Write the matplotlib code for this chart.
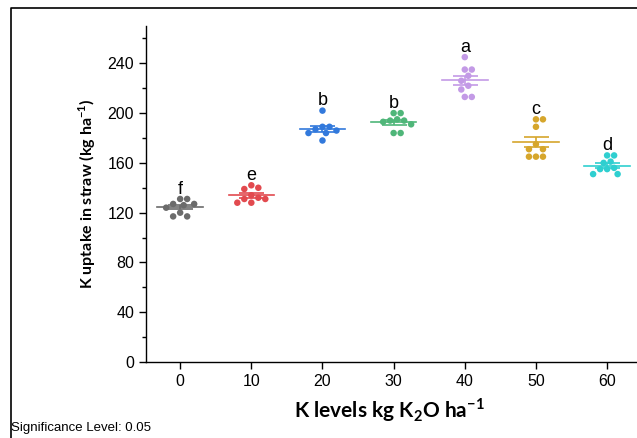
import matplotlib.pyplot as plt
import numpy as np
from matplotlib.lines import Line2D
from matplotlib.ticker import MultipleLocator

# K levels (kg K2O/ha)
levels = [0, 10, 20, 30, 40, 50, 60]

# K uptake in straw, replicate values per level
k0 = [131, 131, 127, 127, 126, 124, 120, 117, 117]
k10 = [142, 140, 139, 134, 132, 131, 131, 128, 128]
k20 = [202, 189, 189, 187, 186, 184, 184, 178]
k30 = [200, 200, 195, 194, 194, 193, 191, 184, 184]
k40 = [245, 235, 235, 230, 226, 222, 219, 213, 213]
k50 = [195, 195, 189, 175, 171, 171, 165, 165, 165]
k60 = [166, 166, 161, 160, 156, 155, 155, 151, 151]
groups = [k0, k10, k20, k30, k40, k50, k60]

letters = ['f', 'e', 'b', 'b', 'a', 'c', 'd']
colors = ['#6b6b6b', '#e24a4f', '#3279dc', '#4fb679', '#c39ae6', '#d6a62c', '#2fcfd0']

plt.rcParams['font.family'] = ['Liberation Sans', 'DejaVu Sans']
plt.rcParams['mathtext.fontset'] = 'custom'
plt.rcParams['mathtext.rm'] = 'Lato'
plt.rcParams['mathtext.bf'] = 'Lato:bold'

fig = plt.figure(figsize=(6.37, 4.38), dpi=100)
ax = fig.add_axes([146/637, 1-362/438, 1-146/637, (362-26)/438])
ax.set_xlim(-4.8, 64.2)
ax.set_ylim(0, 270)

# pixel scale used to swarm the dots
px_x = (637-146) / 69.0
px_y = 336 / 270.0
gap_px = 7.0


def swarm(vals):
    # simple beeswarm: put each dot as close to centre as it fits
    placed = []
    offs = []
    for v in vals:
        for k in range(0, 20):
            cands = [0.0] if k == 0 else [k * gap_px * 0.5, -k * gap_px * 0.5]
            ok = None
            for c in cands:
                if all((c - px) ** 2 + ((v - pv) * px_y) ** 2 >= gap_px ** 2 for px, pv in placed):
                    ok = c
                    break
            if ok is not None:
                placed.append((ok, v))
                offs.append(ok / px_x)
                break
    return np.array(offs)


for x, vals, col, let in zip(levels, groups, colors, letters):
    vals = np.array(vals, dtype=float)
    offs = swarm(vals)
    ax.scatter(x + offs, vals, s=22, color=col, edgecolors='none', zorder=3)
    m = vals.mean()
    sem = vals.std(ddof=1) / np.sqrt(len(vals))
    ax.plot([x - 3.2, x + 3.2], [m, m], color=col, lw=1.2, zorder=2)
    ax.errorbar([x], [m], yerr=[sem], color=col, lw=1.2, capsize=9, capthick=1.2, zorder=2)
    ax.text(x, vals.max() + 8, let, ha='center', va='center', fontsize=13)

for s in ['top', 'right']:
    ax.spines[s].set_visible(False)
ax.spines['left'].set_linewidth(1.0)
ax.spines['bottom'].set_linewidth(1.0)
ax.set_xticks(levels)
ax.yaxis.set_major_locator(MultipleLocator(40))
ax.yaxis.set_minor_locator(MultipleLocator(20))
ax.tick_params(axis='both', which='major', length=5, width=1, labelsize=11.5, direction='out')
ax.tick_params(axis='y', which='minor', length=3, width=1)

ax.set_ylabel('K uptake in straw (kg ha$^{\\mathbf{-1}}$)', fontsize=11.5,
              fontweight='bold', family=['Lato', 'DejaVu Sans'], labelpad=7)
fig.text(389/637, 1-410/438, 'K levels kg K$_{\\mathbf{2}}$O ha$^{\\mathbf{-1}}$', ha='center', va='center',
         fontsize=15, fontweight='bold', family=['Lato', 'DejaVu Sans'])
fig.text(11/637, 1-428/438, 'Significance Level: 0.05', ha='left', va='center', fontsize=9.5)

# outer frame (cropped at right and bottom)
fig.add_artist(Line2D([11/637, 11/637, 1.0], [0.0, 1-8/438, 1-8/438],
                      transform=fig.transFigure, color='black', lw=1.2))

plt.savefig('out.png', dpi=100)
